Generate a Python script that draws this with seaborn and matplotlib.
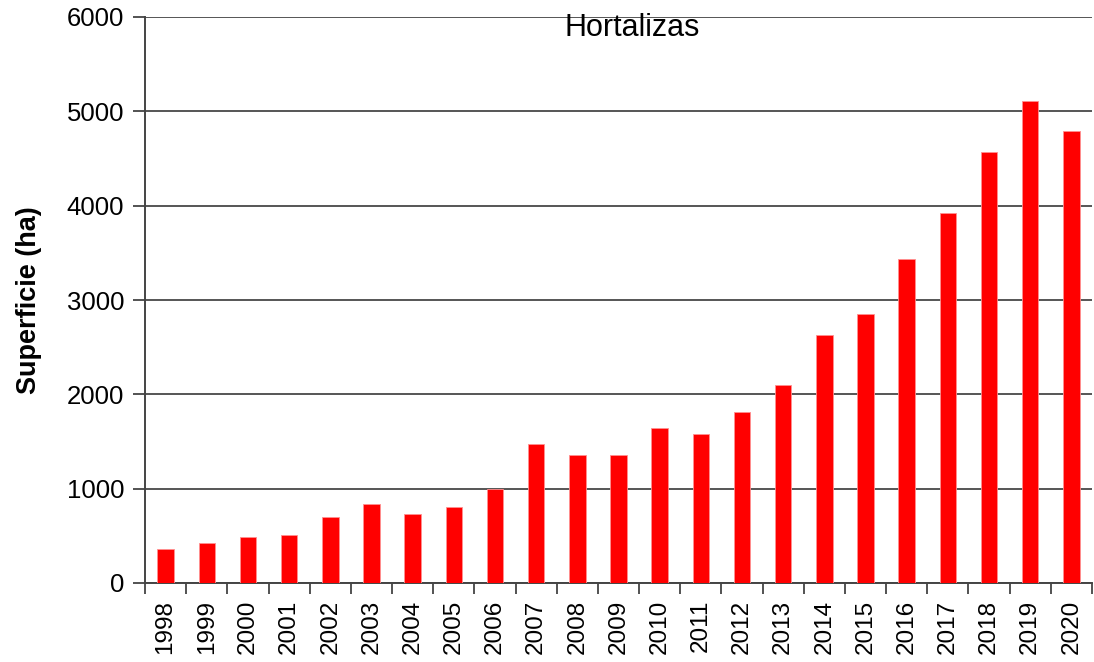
import pandas as pd
import seaborn as sns
import matplotlib.pyplot as plt
from matplotlib.ticker import FixedLocator

years = [str(y) for y in range(1998, 2021)]
superficie = [360, 428, 485, 513, 704, 837, 728, 810, 995, 1478,
              1353, 1353, 1640, 1584, 1817, 2103, 2633, 2848, 3431,
              3922, 4573, 5106, 4796]
yticks = [0, 1000, 2000, 3000, 4000, 5000, 6000]

df = pd.DataFrame({"year": years, "superficie": superficie})

sns.set_style("white")
plt.rcParams["font.family"] = ["Liberation Sans", "DejaVu Sans"]
plt.rcParams["text.color"] = "black"
plt.rcParams["axes.labelcolor"] = "black"
plt.rcParams["xtick.labelcolor"] = "black"
plt.rcParams["ytick.labelcolor"] = "black"

fig = plt.figure(figsize=(10.94, 6.62), dpi=100)
ax = fig.add_axes([145 / 1094, 1 - 583 / 662, 947 / 1094, 566 / 662])

sns.barplot(x="year", y="superficie", data=df, color="#ff0000", saturation=1,
            width=0.4, edgecolor="#ff9090", linewidth=0.6, ax=ax, zorder=3)

ax.set_xlim(-0.5, len(years) - 0.5)
ax.set_ylim(0, 6000)
ax.set_yticks(yticks)
ax.set_yticklabels([str(v) for v in yticks], fontsize=18.5)
ax.yaxis.grid(True, color="#555555", linewidth=1.4, zorder=0)
ax.set_axisbelow(True)

# ticks between the categories, labels under the bars
ax.xaxis.set_minor_locator(FixedLocator([i - 0.5 for i in range(len(years) + 1)]))
ax.tick_params(axis="x", which="major", length=0, pad=12, labelsize=17.5, labelrotation=90)
ax.tick_params(axis="x", which="minor", length=8, width=1.3, color="#444444", bottom=True)
ax.tick_params(axis="y", length=9, width=1.3, color="#444444", pad=6, left=True)

for s in ["top", "right"]:
    ax.spines[s].set_visible(False)
for s in ["left", "bottom"]:
    ax.spines[s].set_color("#444444")
    ax.spines[s].set_linewidth(1.4)

ax.set_xlabel("")
ax.set_ylabel("Superficie (ha)", fontsize=19.5, fontweight="bold", labelpad=18)
ax.text(0.514, 0.98, "Hortalizas", transform=ax.transAxes, ha="center",
        va="center", fontsize=22, zorder=5)

plt.savefig("out.png", dpi=100)
